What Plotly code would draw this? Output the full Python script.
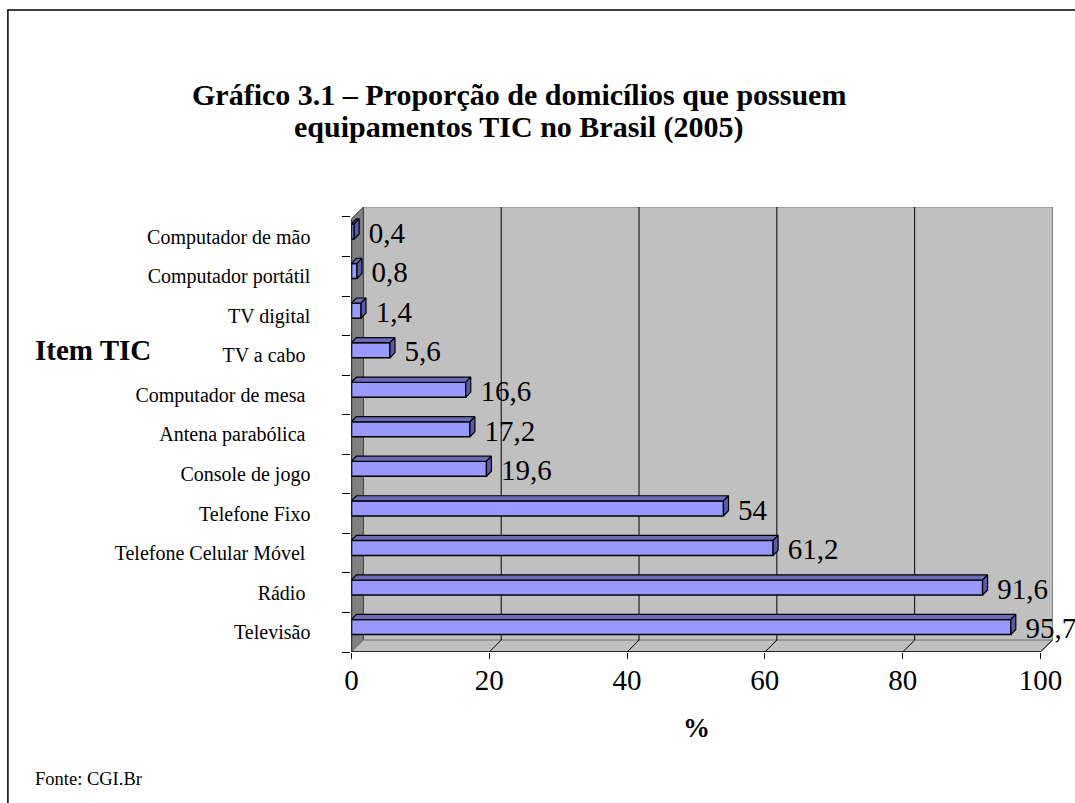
import plotly.graph_objects as go

# ---------------- data ----------------
categories = ["Televisão", "Rádio\u00a0", "Telefone Celular Móvel\u00a0", "Telefone Fixo",
              "Console de jogo", "Antena parabólica\u00a0", "Computador de mesa\u00a0",
              "TV a cabo\u00a0", "TV digital", "Computador portátil", "Computador de mão"]
values = [95.7, 91.6, 61.2, 54, 19.6, 17.2, 16.6, 5.6, 1.4, 0.8, 0.4]
x_ticks = [0, 20, 40, 60, 80, 100]

title_line1 = "<b>Gráfico 3.1 – Proporção de domicílios que possuem</b>"
title_line2 = "<b>equipamentos TIC no Brasil (2005)</b>"
y_title = "<b>Item TIC</b>"
x_title = "<b>%</b>"
source_text = "Fonte: CGI.Br"

# ---------------- geometry / style ----------------
W, H = 1075, 803
FONT = "Liberation Serif, Times New Roman, serif"
X_MAX = 101.88
Y_MIN, Y_MAX = -0.5, 10.75
DX, DY = 1.74, 0.30          # wall depth (data units)
BDX, BDY = 0.72, 0.13        # bar depth (data units)
BAR_SHIFT = 0.13
BAR_W = 0.38
n = len(categories)
idx = list(range(n))
yc = [i + BAR_SHIFT for i in idx]

SX, OX = 0.9865, 7.1


def px_x(p):
    return ((p - OX) / SX) / W


def px_y(p):
    return 1 - p / H


fig = go.Figure()

# bars (front faces)
fig.add_trace(go.Bar(
    x=values, y=yc, orientation="h", width=BAR_W,
    marker=dict(color="#9999FF", line=dict(color="black", width=1.5)),
    hoverinfo="skip", showlegend=False,
))

# top faces and end faces of the 3-D bars
top_x, top_y, end_x, end_y = [], [], [], []
for v, c in zip(values, yc):
    yt = c + BAR_W / 2
    yb = c - BAR_W / 2
    top_x += [0, v, v + BDX, BDX, 0, None]
    top_y += [yt, yt, yt + BDY, yt + BDY, yt, None]
    end_x += [v, v, v + BDX, v + BDX, v, None]
    end_y += [yb, yt, yt + BDY, yb + BDY, yb, None]
fig.add_trace(go.Scatter(x=top_x, y=top_y, mode="lines", fill="toself",
                         fillcolor="#6B6BB8", line=dict(color="black", width=1.2),
                         hoverinfo="skip", showlegend=False))
fig.add_trace(go.Scatter(x=end_x, y=end_y, mode="lines", fill="toself",
                         fillcolor="#5A5AA6", line=dict(color="black", width=1.2),
                         hoverinfo="skip", showlegend=False))

# value labels
labels = [f"{v:g}".replace(".", ",") for v in values]
fig.add_trace(go.Scatter(
    x=[v + BDX + 1.4 for v in values], y=[c - 0.1 for c in yc], mode="text", text=labels,
    textposition="middle right", textfont=dict(family=FONT, size=29, color="black"),
    cliponaxis=False, hoverinfo="skip", showlegend=False,
))

# helper trace for boundary ticks axis
fig.add_trace(go.Scatter(x=[None], y=[None], yaxis="y2", showlegend=False, hoverinfo="skip"))

# ---------------- walls, floor, grid ----------------
shapes = []
shapes.append(dict(type="rect", xref="x", yref="y", layer="below",
                   x0=DX, x1=100 + DX, y0=Y_MIN + DY, y1=Y_MAX,
                   fillcolor="#C0C0C0", line=dict(color="#808080", width=1)))
shapes.append(dict(type="path", xref="x", yref="y", layer="below",
                   path=f"M 0 {Y_MIN} L {DX} {Y_MIN + DY} L {DX} {Y_MAX} L 0 {Y_MAX - DY} Z",
                   fillcolor="#808080", line=dict(color="#404040", width=1)))
shapes.append(dict(type="path", xref="x", yref="y", layer="below",
                   path=f"M 0 {Y_MIN} L 100 {Y_MIN} L {100 + DX} {Y_MIN + DY} L {DX} {Y_MIN + DY} Z",
                   fillcolor="#C0C0C0", line=dict(color="#808080", width=1)))
for t in x_ticks[1:-1]:
    shapes.append(dict(type="line", xref="x", yref="y", layer="below",
                       x0=t + DX, x1=t + DX, y0=Y_MIN + DY, y1=Y_MAX,
                       line=dict(color="black", width=1)))
for t in x_ticks[1:]:
    shapes.append(dict(type="line", xref="x", yref="y", layer="below",
                       x0=t, x1=t + DX, y0=Y_MIN, y1=Y_MIN + DY,
                       line=dict(color="black", width=1)))
shapes.append(dict(type="line", xref="x", yref="y", x0=0, x1=100, y0=Y_MIN, y1=Y_MIN,
                   line=dict(color="black", width=1.5)))
shapes.append(dict(type="line", xref="x", yref="y", x0=0, x1=0, y0=Y_MIN, y1=Y_MAX - DY,
                   line=dict(color="black", width=1.5)))
# outer border
shapes.append(dict(type="rect", xref="paper", yref="paper",
                   x0=px_x(8), x1=1.05, y0=-0.05, y1=px_y(10),
                   line=dict(color="black", width=1.5), fillcolor="rgba(0,0,0,0)"))

annotations = [
    dict(text=title_line1, x=px_x(520), y=px_y(94), xref="paper", yref="paper",
         xanchor="center", yanchor="middle", showarrow=False,
         font=dict(family=FONT, size=30, color="black")),
    dict(text=title_line2, x=px_x(520), y=px_y(127), xref="paper", yref="paper",
         xanchor="center", yanchor="middle", showarrow=False,
         font=dict(family=FONT, size=30, color="black")),
    dict(text=y_title, x=px_x(33), y=px_y(350), xref="paper", yref="paper",
         xanchor="left", yanchor="middle", showarrow=False,
         font=dict(family=FONT, size=29, color="black")),
    dict(text=x_title, x=px_x(698), y=px_y(728), xref="paper", yref="paper",
         xanchor="center", yanchor="middle", showarrow=False,
         font=dict(family=FONT, size=27, color="black")),
    dict(text=source_text, x=px_x(33), y=px_y(779), xref="paper", yref="paper",
         xanchor="left", yanchor="middle", showarrow=False,
         font=dict(family=FONT, size=18.5, color="black")),
]

fig.update_layout(
    width=W, height=H,
    margin=dict(l=0, r=0, t=0, b=0),
    paper_bgcolor="white", plot_bgcolor="white",
    showlegend=False,
    shapes=shapes, annotations=annotations,
    xaxis=dict(domain=[px_x(352), px_x(1055)], range=[0, X_MAX],
               tickvals=x_ticks, ticktext=[str(t) for t in x_ticks],
               ticks="outside", ticklen=6, tickcolor="black", tickwidth=1,
               showgrid=False, zeroline=False, showline=False,
               tickfont=dict(family=FONT, size=29, color="black"),
               ticklabelstandoff=-4, fixedrange=True),
    yaxis=dict(domain=[px_y(652), px_y(207)], range=[Y_MIN, Y_MAX],
               tickvals=idx, ticktext=categories, ticks="",
               showgrid=False, zeroline=False, showline=False,
               tickfont=dict(family=FONT, size=20, color="black"),
               ticklabelstandoff=40, fixedrange=True),
    yaxis2=dict(domain=[px_y(652), px_y(207)], range=[Y_MIN, Y_MAX], overlaying="y",
                anchor="x", side="left",
                tickvals=[i - 0.5 for i in range(n + 1)], ticks="outside", ticklen=8,
                tickcolor="black", tickwidth=1, showticklabels=False,
                showgrid=False, zeroline=False, showline=False, fixedrange=True),
)

fig.write_html("out.html", config={"displayModeBar": False},
               post_script="document.body.style.margin='0px';document.body.style.overflow='hidden';")
